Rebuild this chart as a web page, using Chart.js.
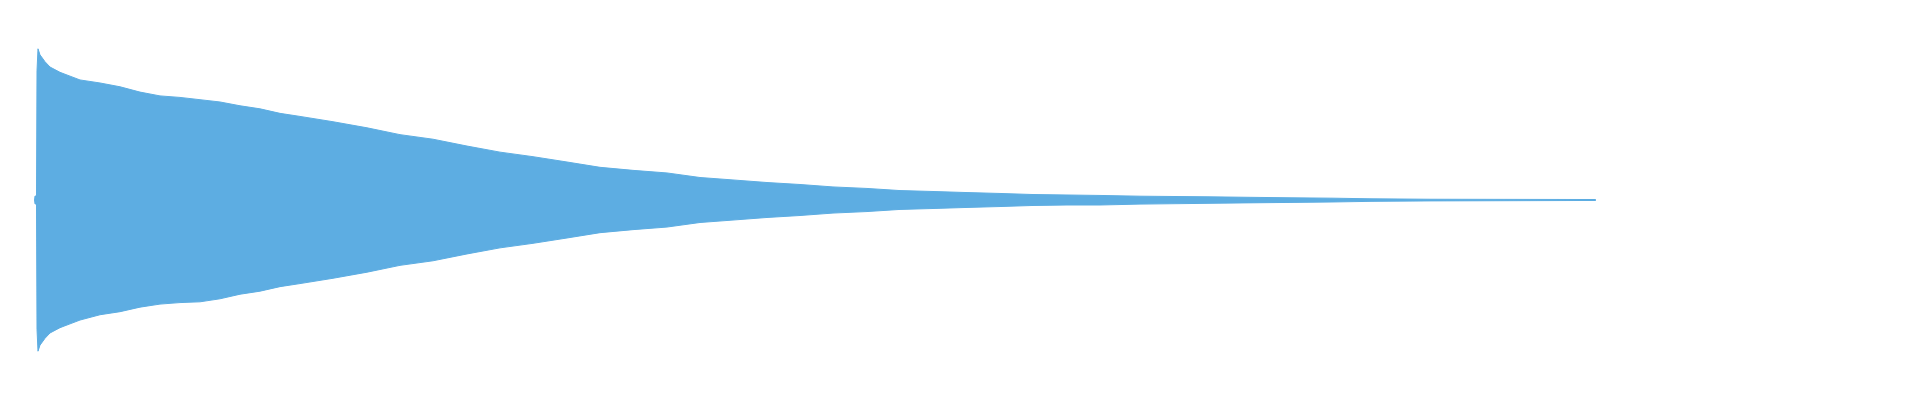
<!DOCTYPE html>
<html>
<head>
<meta charset="utf-8">
<script src="https://cdn.jsdelivr.net/npm/chart.js@4/dist/chart.umd.min.js"></script>
<style>
  html, body { margin: 0; padding: 0; background: #fff; }
  #wrap { width: 1920px; height: 400px; }
</style>
</head>
<body>
<div id="wrap"><canvas id="wave" width="1920" height="400"></canvas></div>
<script>
// positions along the track (column index) where the envelope was read
const positions = [
    34.5, 35, 36.5, 37, 38, 40, 45, 50, 60, 70, 80, 100, 120, 140, 160, 180, 200,
    220, 240, 260, 280, 300, 333, 367, 400, 433, 467, 500, 533, 567, 600, 633,
    667, 700, 733, 767, 800, 833, 867, 900, 933, 967, 1000, 1033, 1067, 1100,
    1140, 1208, 1245, 1290, 1333, 1370, 1430, 1580, 1595, 1596
];
// peak amplitude (full scale = 1) above the centre line
const peakHigh = [
    0, 0.026, 0.026, 0.85, 0.995, 0.955, 0.91, 0.875, 0.84, 0.815, 0.79, 0.77,
    0.745, 0.71, 0.685, 0.675, 0.66, 0.645, 0.62, 0.6, 0.57, 0.55, 0.515, 0.475,
    0.43, 0.4, 0.355, 0.315, 0.285, 0.25, 0.215, 0.195, 0.178, 0.148, 0.132,
    0.115, 0.102, 0.086, 0.076, 0.062, 0.056, 0.049, 0.043, 0.036, 0.033, 0.03,
    0.025, 0.021, 0.018, 0.0145, 0.012, 0.008, 0.005, 0.0033, 0.0033, 0
];
// peak amplitude below the centre line
const peakLow = [
    0, -0.026, -0.026, -0.85, -0.995, -0.955, -0.91, -0.875, -0.84, -0.815, -0.79, -0.755,
    -0.735, -0.705, -0.685, -0.675, -0.67, -0.65, -0.62, -0.6, -0.57, -0.55, -0.515, -0.475,
    -0.43, -0.4, -0.355, -0.315, -0.285, -0.25, -0.215, -0.195, -0.178, -0.148, -0.132,
    -0.115, -0.102, -0.086, -0.076, -0.062, -0.056, -0.049, -0.043, -0.036, -0.033, -0.033,
    -0.027, -0.022, -0.019, -0.016, -0.013, -0.009, -0.006, -0.0033, -0.0033, 0
];

const waveColor = "rgb(93,173,226)";

const toPoints = (vals) => positions.map((p, i) => ({ x: p, y: vals[i] }));

const wave_config = {
    type: 'line',
    data: {
        datasets: [{
            data: toPoints(peakHigh),
            borderColor: waveColor,
            backgroundColor: waveColor,
            borderWidth: 1,
            pointRadius: 0,
            tension: 0,
            fill: '+1'
        }, {
            data: toPoints(peakLow),
            borderColor: waveColor,
            backgroundColor: waveColor,
            borderWidth: 1,
            pointRadius: 0,
            tension: 0,
            fill: false
        }]
    },
    options: {
        responsive: false,
        animation: false,
        layout: { padding: 0 },
        plugins: {
            legend: { display: false },
            tooltip: { enabled: false }
        },
        scales: {
            x: { type: 'linear', min: 0, max: 1920, display: false },
            y: { min: -1.316, max: 1.316, display: false }
        }
    }
};

window.onload = function () {
    const ctx = document.querySelector('#wave').getContext('2d');
    const myWave = new Chart(ctx, wave_config);
};
</script>
</body>
</html>
